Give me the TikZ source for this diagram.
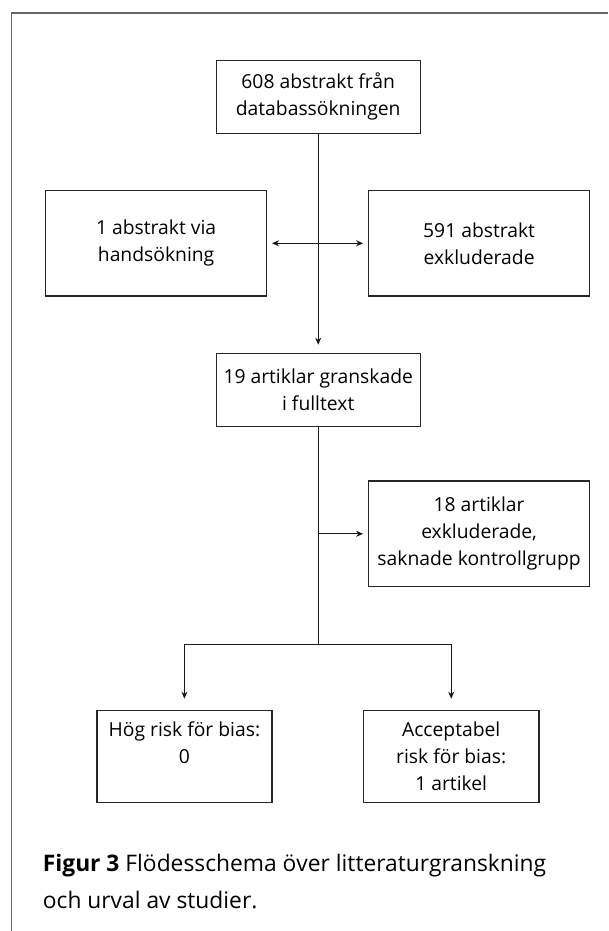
\documentclass[tikz,border=0pt]{standalone}
\usepackage{fontspec}
\setmainfont{Open Sans}
\usetikzlibrary{arrows.meta}
\begin{document}
\begin{tikzpicture}[x=1pt,y=-1pt,
  box/.style={draw=black!85, line width=1.2pt, align=center, inner sep=0pt,
    font=\fontsize{19.3}{27}\selectfont, text=black},
  conn/.style={line width=0.9pt, draw=black!90},
  tip/.style={-{Stealth[length=7pt,width=6pt]}},
  captxt/.style={anchor=base west, inner sep=0pt, font=\fontsize{22.8}{27}\selectfont, text=black}
]
\useasboundingbox (0,0) rectangle (608,931);
\draw[black!60, line width=1.6pt] (11.6,931) -- (11.6,13) -- (608,13);

\node[box, minimum width=204pt, minimum height=73pt] (top) at (318.2,96.8) {608 abstrakt från\\databassökningen};
\node[box, minimum width=221.4pt, minimum height=105.3pt] (hand) at (156.1,243.3) {1 abstrakt via\\handsökning};
\node[box, minimum width=221.4pt, minimum height=105.3pt] (excl) at (479.1,243.3) {591 abstrakt\\exkluderade};
\node[box, minimum width=204pt, minimum height=73pt] (full) at (318.2,389.8) {19 artiklar granskade\\i fulltext};
\node[box, minimum width=221.4pt, minimum height=105.7pt] (art) at (479.1,533.8) {18 artiklar\\exkluderade,\\saknade kontrollgrupp};
\node[box, minimum width=175pt, minimum height=91.6pt] (hog) at (184.4,756.5) {Hög risk för bias:\\0\\\mbox{}};
\node[box, minimum width=175.7pt, minimum height=91.6pt] (acc) at (451.2,756.5) {Acceptabel\\risk för bias:\\1 artikel};

\coordinate (branch) at (318.2,644.3);

\draw[conn, tip, shorten >=8pt] (top.south) -- (full.north);
\draw[conn, {Stealth[length=7pt,width=6pt]}-{Stealth[length=7pt,width=6pt]}, shorten <=4.6pt, shorten >=4.7pt] (hand.east) -- (excl.west);
\draw[conn] (full.south) -- (branch);
\draw[conn, tip, shorten >=4.7pt] (full.south |- art.west) -- (art.west);
\draw[conn] (hog.north |- branch) -- (acc.north |- branch);
\draw[conn, tip, shorten >=11.4pt] (hog.north |- branch) -- (hog.north);
\draw[conn, tip, shorten >=11.4pt] (acc.north |- branch) -- (acc.north);

\node[captxt] (cap1) at (42.7,871.7) {\textbf{Figur 3}\ Flödesschema över litteraturgranskning};
\node[captxt] (cap2) at (42.7,908.3) {och urval av studier.};
\end{tikzpicture}
\end{document}
